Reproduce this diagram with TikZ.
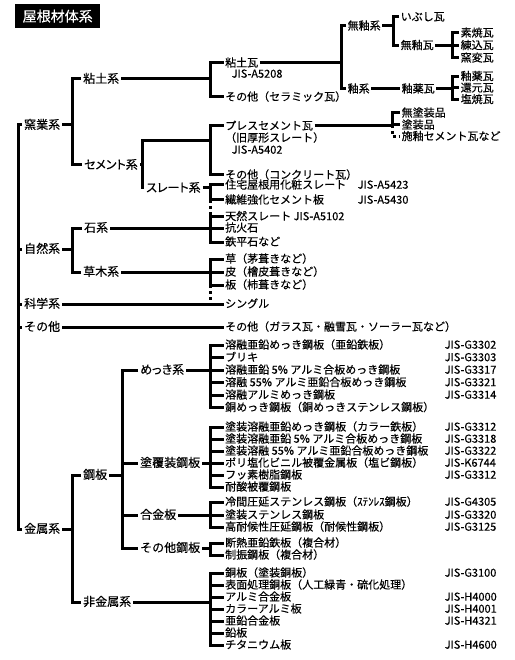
\documentclass[tikz,border=0pt]{standalone}
\usepackage{fontspec}
\setmainfont{Noto Sans CJK JP}[FakeBold=0.35]
\begin{document}
\begin{tikzpicture}[x=1pt,y=-1pt,
  ln/.style={line width=3pt},
  dotln/.style={line width=3pt,dash pattern=on 3pt off 3pt},
  lab/.style={anchor=west,inner sep=2pt,font=\fontsize{12}{12}\selectfont,text height=10pt,text depth=2pt},
  plab/.style={lab,font=\fontsize{12}{12}\selectfont\addfontfeatures{RawFeature=+palt}},
  itm/.style={anchor=west,inner sep=1.5pt,font=\fontsize{11}{11}\selectfont,text height=9.2pt,text depth=1.8pt},
  ttl/.style={anchor=north west,fill=black,text=white,inner sep=0pt,minimum width=85pt,minimum height=24pt,font=\fontsize{14}{14}\selectfont}]
\useasboundingbox (0,0) rectangle (514,660);
% column coordinates
\coordinate (X0) at (18,0);
\coordinate (X1) at (72,0);
\coordinate (X2) at (122,0);
\coordinate (XB) at (210,0);
\coordinate (XN1) at (341,0);
\coordinate (XN2) at (393,0);
\coordinate (XN3) at (452,0);
\coordinate (XP) at (392,0);
\coordinate (cj) at (142,141);

\node[ttl] (title) at (15,4) {屋根材体系};

% level 1
\node[lab] (yogyo) at (22,125) {窯業系};
\node[lab] (shizen) at (22,249) {自然系};
\node[lab] (kagaku) at (22,304) {科学系};
\node[lab] (sonota) at (22,327) {その他};
\node[lab] (kinzoku) at (22,529) {金属系};

% level 2
\node[lab] (nendo) at (81,79) {粘土系};
\node[plab] (cement) at (82,165) {セメント系};
\node[plab] (slate) at (144,188) {スレート系};
\node[lab] (ishi) at (82,228) {石系};
\node[lab] (somoku) at (81,272) {草木系};
\node[lab] (kouhan) at (81,475) {鋼板};
\node[lab] (hikinzoku) at (81,602) {非金属系};

% level 3 (metal)
\node[plab] (mekki) at (138,370) {めっき系};
\node[lab] (tofuku) at (138,463) {塗覆装鋼板};
\node[lab] (gokin) at (138,515) {合金板};
\node[lab] (sonota2) at (138,548) {その他鋼板};

% clay group
\node[itm] (nendogawara) at (223.5,63) {粘土瓦};
\node[itm] (jisA5208) at (230,74) {JIS-A5208};
\node[itm] (sonotaC) at (223.5,97) {その他（セラミック瓦）};
\node[itm] (muyuukei) at (346,26) {無釉系};
\node[itm] (yuukei) at (346,89) {釉系};
\node[itm] (ibushi) at (399,17) {いぶし瓦};
\node[itm] (muyuugawara) at (399,45.5) {無釉瓦};
\node[itm] (yuyakumid) at (400,89) {釉薬瓦};
\node[itm] (suyaki) at (459,33) {素焼瓦};
\node[itm] (nerikomi) at (459,45.5) {練込瓦};
\node[itm] (youhen) at (459,58) {窯変瓦};
\node[itm] (yuyaku) at (459,76.5) {釉薬瓦};
\node[itm] (kangen) at (459,88) {還元瓦};
\node[itm] (shioyaki) at (459,99.5) {塩焼瓦};

% cement group
\node[itm] (press) at (223.5,126) {プレスセメント瓦};
\node[itm] (kyuatsu) at (223.5,138) {（旧厚形スレート）};
\node[itm] (jisA5402) at (230,150) {JIS-A5402};
\node[itm] (concrete) at (223.5,175) {その他（コンクリート瓦）};
\node[itm] (mutoso) at (400,113) {無塗装品};
\node[itm] (tosohin) at (400,125) {塗装品};
\node[itm] (seyuu) at (400,136.5) {施釉セメント瓦など};

% slate group
\node[itm] (jutaku) at (223.5,185) {住宅屋根用化粧スレート};
\node[itm] (jisA5423) at (356,185) {JIS-A5423};
\node[itm] (seni) at (223.5,200) {繊維強化セメント板};
\node[itm] (jisA5430) at (356,200) {JIS-A5430};
\node[itm] (tennen) at (223.5,216.5) {天然スレート JIS-A5102};
\node[itm] (kouka) at (223.5,228) {抗火石};
\node[itm] (teppei) at (223.5,242) {鉄平石など};

% plant group
\node[itm] (kusa) at (223.5,259) {草（茅葺きなど）};
\node[itm] (kawa) at (223.5,272) {皮（檜皮葺きなど）};
\node[itm] (ita) at (223.5,285) {板（杮葺きなど）};
\node[itm] (shingle) at (223.5,304) {シングル};
\node[itm] (sonotaG) at (223.5,327) {その他（ガラス瓦・融雪瓦・ソーラー瓦など）};

% plating group
\node[itm] (m1) at (223.5,345) {溶融亜鉛めっき鋼板（亜鉛鉄板）};
\node[itm] (m2) at (223.5,357.5) {ブリキ};
\node[itm] (m3) at (223.5,370) {溶融亜鉛 5\% アルミ合板めっき鋼板};
\node[itm] (m4) at (223.5,382.5) {溶融 55\% アルミ亜鉛合板めっき鋼板};
\node[itm] (m5) at (223.5,395) {溶融アルミめっき鋼板};
\node[itm] (m6) at (223.5,407.5) {銅めっき鋼板（銅めっきステンレス鋼板）};
\node[itm] (jm1) at (443,345) {JIS-G3302};
\node[itm] (jm2) at (443,357.5) {JIS-G3303};
\node[itm] (jm3) at (443,370) {JIS-G3317};
\node[itm] (jm4) at (443,382.5) {JIS-G3321};
\node[itm] (jm5) at (443,395) {JIS-G3314};

% coated group
\node[itm] (t1) at (223.5,427) {塗装溶融亜鉛めっき鋼板（カラー鉄板）};
\node[itm] (t2) at (223.5,439) {塗装溶融亜鉛 5\% アルミ合板めっき鋼板};
\node[itm] (t3) at (223.5,451) {塗装溶融 55\% アルミ亜鉛合板めっき鋼板};
\node[itm] (t4) at (223.5,463) {ポリ塩化ビニル被覆金属板（塩ビ鋼板）};
\node[itm] (t5) at (223.5,475) {フッ素樹脂鋼板};
\node[itm] (t6) at (223.5,487) {耐酸被覆鋼板};
\node[itm] (jt1) at (443,427) {JIS-G3312};
\node[itm] (jt2) at (443,439) {JIS-G3318};
\node[itm] (jt3) at (443,451) {JIS-G3322};
\node[itm] (jt4) at (443,463) {JIS-K6744};
\node[itm] (jt5) at (443,475) {JIS-G3312};

% alloy group
\node[itm] (g1) at (223.5,502) {冷間圧延ステンレス鋼板（ｽﾃﾝﾚｽ鋼板）};
\node[itm] (g2) at (223.5,515) {塗装ステンレス鋼板};
\node[itm] (g3) at (223.5,527) {高耐候性圧延鋼板（耐候性鋼板）};
\node[itm] (jg1) at (443,502) {JIS-G4305};
\node[itm] (jg2) at (443,515) {JIS-G3320};
\node[itm] (jg3) at (443,527) {JIS-G3125};

% other steel
\node[itm] (o1) at (223.5,543) {断熱亜鉛鉄板（複合材）};
\node[itm] (o2) at (223.5,555) {制振鋼板（複合材）};

% non-ferrous
\node[itm] (n1) at (223.5,573) {銅板（塗装銅板）};
\node[itm] (n2) at (223.5,585) {表面処理銅板（人工緑青・硫化処理）};
\node[itm] (n3) at (223.5,597) {アルミ合金板};
\node[itm] (n4) at (223.5,609) {カラーアルミ板};
\node[itm] (n5) at (223.5,621) {亜鉛合金板};
\node[itm] (n6) at (223.5,633) {鉛板};
\node[itm] (n7) at (223.5,645) {チタニウム板};
\node[itm] (jn1) at (443,573) {JIS-G3100};
\node[itm] (jn3) at (443,597) {JIS-H4000};
\node[itm] (jn4) at (443,609) {JIS-H4001};
\node[itm] (jn5) at (443,621) {JIS-H4321};
\node[itm] (jn7) at (443,645) {JIS-H4600};

% ---- connectors ----
% trunk
\draw[ln] (yogyo.west) -- (yogyo.west -| X0) -- (kinzoku.west -| X0) -- (kinzoku.west);
\foreach \n in {shizen,kagaku,sonota} \draw[ln] (\n.west -| X0) -- (\n.west);
% level 2
\draw[ln] (nendo.west) -- (nendo.west -| X1) -- (cement.west -| X1) -- (cement.west);
\draw[ln] (yogyo.east) -- (yogyo.east -| X1);
\draw[ln] (ishi.west) -- (ishi.west -| X1) -- (somoku.west -| X1) -- (somoku.west);
\draw[ln] (shizen.east) -- (shizen.east -| X1);
\draw[ln] (kouhan.west) -- (kouhan.west -| X1) -- (hikinzoku.west -| X1) -- (hikinzoku.west);
\draw[ln] (kinzoku.east) -- (kinzoku.east -| X1);
% clay
\draw[ln] (nendo.east) -- (nendo.east -| XB);
\draw[ln] (nendogawara.west) -- (nendogawara.west -| XB) -- (sonotaC.west -| XB) -- (sonotaC.west);
\draw[ln] (nendogawara.east) -- (nendogawara.east -| XN1);
\draw[ln] (muyuukei.west) -- (muyuukei.west -| XN1) -- (yuukei.west -| XN1) -- (yuukei.west);
\draw[ln] (muyuukei.east) -- (muyuukei.east -| XN2);
\draw[ln] (ibushi.west) -- (ibushi.west -| XN2) -- (muyuugawara.west -| XN2) -- (muyuugawara.west);
\draw[ln] (muyuugawara.east) -- (nerikomi.west);
\draw[ln] (suyaki.west) -- (suyaki.west -| XN3) -- (youhen.west -| XN3) -- (youhen.west);
\draw[ln] (yuukei.east) -- (yuyakumid.west);
\draw[ln] (yuyakumid.east) -- (yuyakumid.east -| XN3);
\draw[ln] (yuyaku.west) -- (yuyaku.west -| XN3) -- (shioyaki.west -| XN3) -- (shioyaki.west);
\draw[ln] (kangen.west -| XN3) -- (kangen.west);
% cement
\draw[ln] (cement.east) -- (cement.east -| cj);
\draw[ln] (cj -| XB) -- (cj) -- (slate.west -| cj) -- (slate.west);
\draw[ln] (press.west) -- (press.west -| XB) -- (concrete.west -| XB) -- (concrete.west);
\draw[ln] (press.east) -- (press.east -| XP);
\draw[ln] (mutoso.west) -- (mutoso.west -| XP) -- (tosohin.west -| XP) -- (tosohin.west);
\draw[dotln] (tosohin.west -| XP) -- (seyuu.west -| XP) -- (seyuu.west);
% slate
\draw[ln] (slate.east) -- (slate.east -| XB);
\draw[ln] (jutaku.west) -- (jutaku.west -| XB) -- (seni.west -| XB) -- (seni.west);
\draw[dotln] (seni.west -| XB) -- (tennen.west -| XB);
% stone
\draw[ln] (ishi.east) -- (ishi.east -| XB);
\draw[ln] (tennen.west) -- (tennen.west -| XB) -- (teppei.west -| XB) -- (teppei.west);
\draw[ln] (kouka.west -| XB) -- (kouka.west);
% plants
\draw[ln] (somoku.east) -- (somoku.east -| XB);
\draw[ln] (kusa.west) -- (kusa.west -| XB) -- (ita.west -| XB) -- (ita.west);
\draw[ln] (kawa.west -| XB) -- (kawa.west);
\draw[dotln] (ita.west -| XB) -- (shingle.west -| XB);
\draw[ln] (kagaku.east) -- (shingle.west);
\draw[ln] (sonota.east) -- (sonotaG.west);
% metal level 3
\draw[ln] (mekki.west) -- (mekki.west -| X2) -- (sonota2.west -| X2) -- (sonota2.west);
\draw[ln] (tofuku.west -| X2) -- (tofuku.west);
\draw[ln] (gokin.west -| X2) -- (gokin.west);
\draw[ln] (kouhan.east) -- (kouhan.east -| X2);
% plating
\draw[ln] (mekki.east) -- (mekki.east -| XB);
\draw[ln] (m1.west) -- (m1.west -| XB) -- (m6.west -| XB) -- (m6.west);
\foreach \n in {m2,m3,m4,m5} \draw[ln] (\n.west -| XB) -- (\n.west);
% coated
\draw[ln] (tofuku.east) -- (tofuku.east -| XB);
\draw[ln] (t1.west) -- (t1.west -| XB) -- (t6.west -| XB) -- (t6.west);
\foreach \n in {t2,t3,t4,t5} \draw[ln] (\n.west -| XB) -- (\n.west);
% alloy
\draw[ln] (gokin.east) -- (gokin.east -| XB);
\draw[ln] (g1.west) -- (g1.west -| XB) -- (g3.west -| XB) -- (g3.west);
\draw[ln] (g2.west -| XB) -- (g2.west);
% other steel
\draw[ln] (sonota2.east) -- (sonota2.east -| XB);
\draw[ln] (o1.west) -- (o1.west -| XB) -- (o2.west -| XB) -- (o2.west);
% non-ferrous
\draw[ln] (hikinzoku.east) -- (hikinzoku.east -| XB);
\draw[ln] (n1.west) -- (n1.west -| XB) -- (n7.west -| XB) -- (n7.west);
\foreach \n in {n2,n3,n4,n5,n6} \draw[ln] (\n.west -| XB) -- (\n.west);
\end{tikzpicture}
\end{document}
